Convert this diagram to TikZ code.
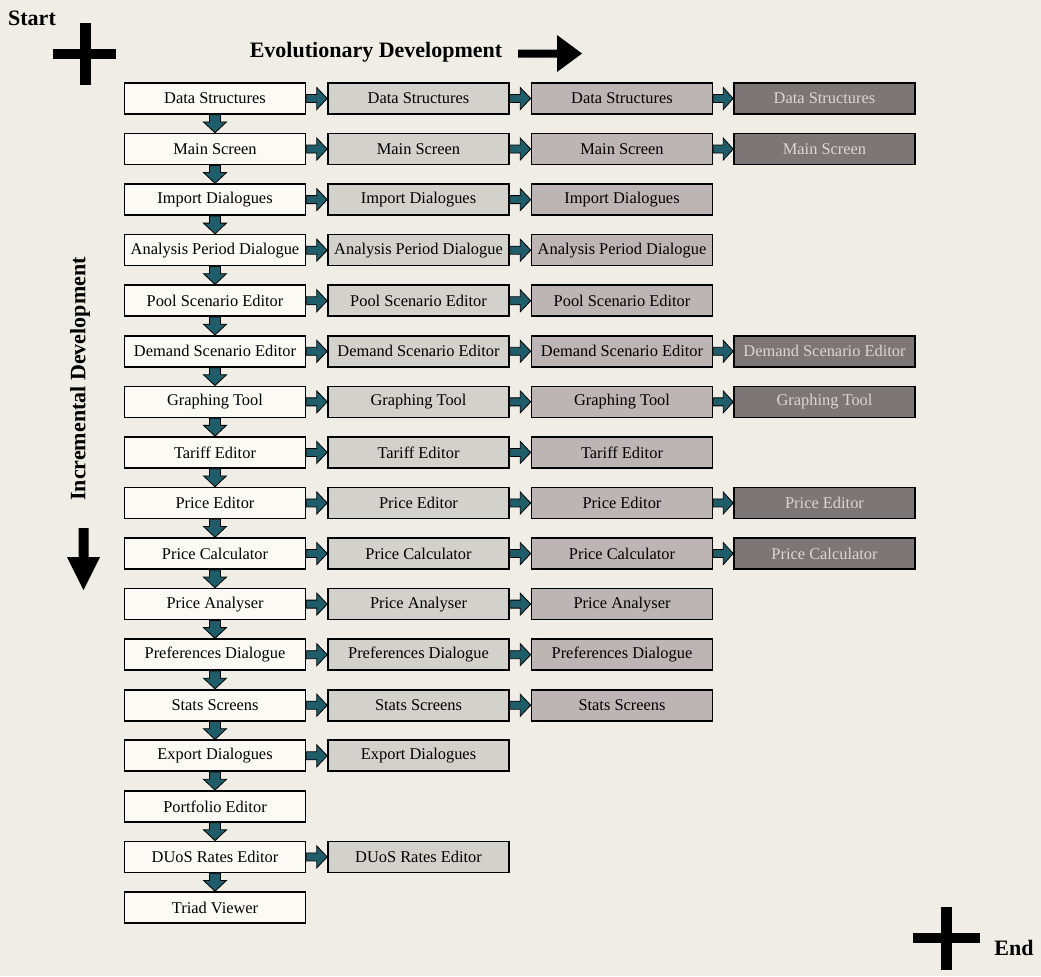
\documentclass[tikz,border=0pt]{standalone}
\usepackage{fontspec}
\setmainfont{Liberation Serif}
\usetikzlibrary{calc}
\definecolor{paper}{HTML}{EFEDE6}
\definecolor{stageA}{HTML}{FBFAF5}
\definecolor{stageB}{HTML}{D3D1CB}
\definecolor{stageC}{HTML}{BDB5B3}
\definecolor{stageD}{HTML}{7C7676}
\definecolor{stageDtext}{HTML}{DDD5D3}
\definecolor{teal}{HTML}{1E5D69}

% block arrow from the right side of #1 to the left side of #2
\newcommand\linkright[2]{%
  \draw[conn] ($(#1.east)+(0,-4)$) -- ($(#1.east)!0.5!(#2.west)+(0,-4)$)
    -- ($(#1.east)!0.5!(#2.west)+(0,-11)$) -- (#2.west)
    -- ($(#1.east)!0.5!(#2.west)+(0,11)$) -- ($(#1.east)!0.5!(#2.west)+(0,4)$)
    -- ($(#1.east)+(0,4)$) -- cycle;}
% block arrow from the bottom of #1 to the top of #2
\newcommand\linkdown[2]{%
  \draw[conn] ($(#1.south)+(-5.5,0)$) -- ($(#1.south)!0.4!(#2.north)+(-5.5,0)$)
    -- ($(#1.south)!0.4!(#2.north)+(-11.5,0)$) -- (#2.north)
    -- ($(#1.south)!0.4!(#2.north)+(11.5,0)$) -- ($(#1.south)!0.4!(#2.north)+(5.5,0)$)
    -- ($(#1.south)+(5.5,0)$) -- cycle;}

\begin{document}
\begin{tikzpicture}[x=0.75pt,y=-0.75pt,
  box/.style={draw=black, line width=1.2pt, minimum width=135.75pt,
    minimum height=23.25pt, inner sep=0pt,
    font=\fontsize{12.3}{14}\selectfont},
  conn/.style={fill=teal, draw=black, line width=0.6pt, line join=miter},
  title/.style={font=\fontsize{16.5}{19}\selectfont\bfseries, inner sep=0pt},
  bigmark/.style={fill=black, draw=none}]

\useasboundingbox (0,0) rectangle (1041,976);
\fill[paper] (0,0) rectangle (1041,976);

% headings and start / end markers
\node[title] (start) at (32,18) {Start};
\node[title] (end) at (1014,948) {End};
\node[title] (evo) at (376,52) {Evolutionary Development};
\node[title, rotate=90] (inc) at (80,379) {Incremental Development};

\fill[bigmark] (80,23) rectangle (91,85);
\fill[bigmark] (53,49) rectangle (116,59);
\fill[bigmark] (941,907) rectangle (952,970);
\fill[bigmark] (913,933) rectangle (980,943);

\fill[bigmark] (518,49.5) -- (557,49.5) -- (557,35) -- (582,53.5)
  -- (557,72) -- (557,57.5) -- (518,57.5) -- cycle;
\fill[bigmark] (78.5,528) -- (88.5,528) -- (88.5,557) -- (100,557)
  -- (83.5,590) -- (67,557) -- (78.5,557) -- cycle;

% one row per module: name / number of stages it went through
\foreach \i/\t/\n in {
  1/Data Structures/4,
  2/Main Screen/4,
  3/Import Dialogues/3,
  4/Analysis Period Dialogue/3,
  5/Pool Scenario Editor/3,
  6/Demand Scenario Editor/4,
  7/Graphing Tool/4,
  8/Tariff Editor/3,
  9/Price Editor/4,
  10/Price Calculator/4,
  11/Price Analyser/3,
  12/Preferences Dialogue/3,
  13/Stats Screens/3,
  14/Export Dialogues/2,
  15/Portfolio Editor/1,
  16/DUoS Rates Editor/2,
  17/Triad Viewer/1}{
  \pgfmathsetmacro\rowy{98.5+50.56*(\i-1)}
  \node[box, fill=stageA] (m\i-1) at (215,\rowy) {\t};
  \ifnum\n>1
    \node[box, fill=stageB] (m\i-2) at (418.5,\rowy) {\t};
    \linkright{m\i-1}{m\i-2}
  \fi
  \ifnum\n>2
    \node[box, fill=stageC] (m\i-3) at (622,\rowy) {\t};
    \linkright{m\i-2}{m\i-3}
  \fi
  \ifnum\n>3
    \node[box, fill=stageD, text=stageDtext] (m\i-4) at (824.5,\rowy) {\t};
    \linkright{m\i-3}{m\i-4}
  \fi
}

% incremental chain down the first column
\foreach \i [evaluate=\i as \j using int(\i+1)] in {1,...,16}{
  \linkdown{m\i-1}{m\j-1}
}

\end{tikzpicture}
\end{document}
